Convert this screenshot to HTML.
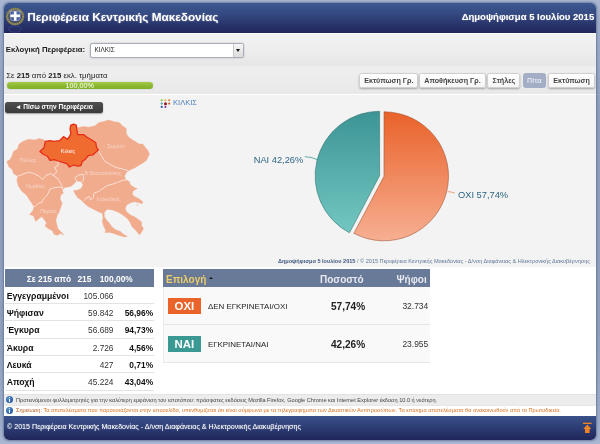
<!DOCTYPE html>
<html lang="el">
<head>
<meta charset="utf-8">
<title>Περιφέρεια Κεντρικής Μακεδονίας</title>
<style>
*{box-sizing:border-box;margin:0;padding:0}
html,body{width:600px;height:444px;overflow:hidden}
body{font-family:"Liberation Sans",sans-serif;position:relative;
 background:linear-gradient(to bottom,#a9b7d3 0,#9fadc9 4%,#8fa0bf 25%,#8fa0bf 75%,#9fadc9 96%,#a9b7d3 100%)}
.abs{position:absolute;white-space:nowrap}
#wrap{position:absolute;left:4px;top:3px;width:592px;height:437px;border-radius:5px;background:#fff;
 box-shadow:0 0 2px 1px rgba(90,108,145,.75);overflow:hidden;will-change:transform}
/* header */
#hdr{position:absolute;left:0;top:0;width:100%;height:29.8px;background:linear-gradient(to bottom,#3c5990 0,#344a82 35%,#29346c 72%,#21275e 100%)}
#title{left:23.3px;top:6.8px;font-size:11.75px;line-height:14px;font-weight:bold;color:#fff;text-shadow:0 0 2px rgba(255,255,255,.45)}
#title2{right:1.8px;top:8.4px;font-size:9.53px;line-height:11px;font-weight:bold;color:#fff;text-shadow:0 0 1.5px rgba(255,255,255,.4)}
/* bands */
#band1{position:absolute;left:0;top:29.8px;width:100%;height:33.4px;background:linear-gradient(to bottom,#fff 0,#f2f2f2 4%,#eeeeee 50%,#e6e6e6 100%)}
#band2{position:absolute;left:0;top:63.2px;width:100%;height:28.3px;background:linear-gradient(to bottom,#efefef 0,#ececec 50%,#e8e8e8 100%)}
#content{position:absolute;left:0;top:91.5px;width:100%;height:172.5px;background:#f3f3f3}
#lbl{left:1.8px;top:42.1px;font-size:7.76px;line-height:9px;font-weight:bold;color:#222}
#sel{position:absolute;left:85.8px;top:40px;width:154px;height:15.1px;background:#fff;border:1px solid #a9adb6;border-radius:2.5px;box-shadow:0 0 1.5px rgba(70,80,100,.45)}
#sel span{position:absolute;left:3.6px;top:2.1px;font-size:6.4px;line-height:7px;color:#222}
#selbtn{position:absolute;right:0;top:0;width:9.6px;height:100%;border-left:1px solid #c9c9c9;border-radius:0 1.5px 1.5px 0;background:linear-gradient(#f6f6f6,#dcdcdc)}
#selbtn i{position:absolute;left:1.6px;top:5.4px;width:0;height:0;border-left:2.7px solid transparent;border-right:2.7px solid transparent;border-top:3.2px solid #111}
#ptxt{left:2.2px;top:67.9px;font-size:7.8px;line-height:9px;color:#222}
#pbar{position:absolute;left:2.5px;top:78.8px;width:146.5px;height:7.4px;border-radius:4px;background:linear-gradient(to bottom,#a4cc4a 0,#8fbb33 45%,#7fae28 100%);box-shadow:0 0 1px rgba(80,110,20,.6)}
#pbar span{position:absolute;left:0;width:100%;top:.6px;text-align:center;font-size:7.2px;line-height:7px;color:#fff}
/* toolbar buttons */
.btn{position:absolute;top:69.8px;height:15.5px;background:linear-gradient(#ffffff,#f6f6f6);border:1px solid #d0d0d0;border-radius:2.5px;box-shadow:0 1px 2px rgba(0,0,0,.3);font-size:7.15px;line-height:15.3px;font-weight:bold;color:#444;text-align:center;white-space:nowrap}
.btn.act{background:#a3aec6;border-color:#a3aec6;color:#dfe4ee;box-shadow:none}
/* back button */
#back{position:absolute;left:.7px;top:98.5px;width:98.3px;height:11.8px;border-radius:2.5px;background:linear-gradient(#4f4f4f,#3a3a3a);box-shadow:0 1px 1.5px rgba(0,0,0,.35);color:#fff;font-weight:bold;font-size:6.55px;line-height:10.4px;text-align:center;white-space:nowrap}
#klbl{left:169px;top:95.2px;font-size:7.56px;line-height:9px;color:#4a7db8}
/* tables */
.th{position:absolute;top:266px;height:17.8px;background:#687a98}
#st-h{left:.7px;width:149.4px}
#st-h span{position:absolute;top:5.5px;font-size:8.4px;line-height:9px;font-weight:bold;color:#fff;white-space:nowrap}
.row{position:absolute;left:.7px;width:149.4px;height:17.3px;background:#fff;border-bottom:1px solid #e3e3e3}
.row b{position:absolute;left:2px;top:4.1px;font-size:8.68px;line-height:10px;color:#111;white-space:nowrap}
.row span{position:absolute;right:40.6px;top:4.1px;font-size:8.3px;line-height:10px;color:#333;white-space:nowrap}
.row em{position:absolute;right:1px;top:4.1px;font-size:8.4px;line-height:10px;font-style:normal;font-weight:bold;color:#111;white-space:nowrap}
#rt-h{left:159px;width:267px}
#rt-h span{position:absolute;top:4.6px;font-size:10px;line-height:11px;font-weight:bold;white-space:nowrap}
.rrow{position:absolute;left:159px;width:267px;height:38.4px;background:#f9f9f9;border-bottom:1px solid #e6e6e6;border-left:1.5px solid #ececec}
.badge{position:absolute;left:3.9px;top:11px;width:32.9px;height:16.1px;color:#fff;font-weight:bold;font-size:11.4px;line-height:16.9px;text-align:center}
.rrow .nm{position:absolute;left:43.9px;top:15px;font-size:7.93px;line-height:9px;color:#222;white-space:nowrap}
.rrow .pc{position:absolute;right:64.8px;top:14.2px;font-size:10.1px;line-height:12px;font-weight:bold;color:#222;white-space:nowrap}
.rrow .vt{position:absolute;right:1.8px;top:14.4px;font-size:8.44px;line-height:10px;color:#333;white-space:nowrap}
/* info rows + footer */
.r2>div{margin-top:-.5px}
#inf1{position:absolute;left:0;top:391px;width:100%;height:11px;background:#ececec;border-top:1px solid #e2e2e2}
#inf2{position:absolute;left:0;top:402px;width:100%;height:10.8px;background:#fff;border-top:1px solid #e6e6e6}
.inf span{position:absolute;left:12px;top:1.5px;font-size:5.58px;line-height:7px;white-space:nowrap}
#inf2 span{top:1px}
#inf2 .ico{top:.8px}
.ico{position:absolute;left:1.8px;top:1px;width:7px;height:7px;border-radius:50%;background:radial-gradient(circle at 40% 35%,#5f97d6 0,#2c62a8 60%,#1d4a8a 100%)}
.ico:before{content:"";position:absolute;left:3px;top:1.2px;width:1.1px;height:1.1px;background:#fff;border-radius:50%}
.ico:after{content:"";position:absolute;left:3px;top:2.9px;width:1.1px;height:2.9px;background:#fff}
#ftr{position:absolute;left:0;bottom:0;width:100%;height:24.2px;background:linear-gradient(to bottom,#3a5289 0,#2f4078 40%,#252e65 80%,#20265b 100%)}
#ftr span{position:absolute;left:3px;top:7.4px;font-size:7.12px;line-height:9px;color:#fff;white-space:nowrap;text-shadow:0 0 1.5px rgba(255,255,255,.5)}
#cfoot{right:6px;top:254.6px;font-size:5.575px;line-height:7px;color:#60779a}
#cfoot b{color:#41587f}
</style>
</head>
<body>
<div id="wrap">
  <div id="hdr"></div>
  <!--EMBLEM--><svg style="position:absolute;left:-4px;top:-3px" width="40" height="36" viewBox="0 0 40 36">
<ellipse cx="15.1" cy="16.5" rx="8" ry="7.6" fill="#333c66" stroke="#77744f" stroke-width="2.7"/>
<ellipse cx="15.1" cy="16.5" rx="8" ry="7.6" fill="none" stroke="#b9b27c" stroke-width="1.5" stroke-dasharray="1 1.3" stroke-opacity=".6"/>
<path d="M10.1,11.1 H20.2 V18.4 Q20.2,20.9 15.15,20.9 Q10.1,20.9 10.1,18.4 Z" fill="#4d65a2" stroke="#cfd6e8" stroke-width=".5"/>
<rect x="13.9" y="11.4" width="2.6" height="9.2" fill="#fff"/><rect x="10.4" y="14.5" width="9.5" height="2.6" fill="#fff"/>
<ellipse cx="15.1" cy="29" rx="6.5" ry="3.2" fill="none" stroke="#4a5a98" stroke-width=".8" stroke-opacity=".55"/>
</svg><!--/EMBLEM-->
  <div id="title" class="abs">Περιφέρεια Κεντρικής Μακεδονίας</div>
  <div id="title2" class="abs">Δημοψήφισμα 5 Ιουλίου 2015</div>

  <div id="band1"></div>
  <div id="band2"></div>
  <div id="content"></div>

  <div id="lbl" class="abs">Εκλογική Περιφέρεια:</div>
  <div id="sel"><span>ΚΙΛΚΙΣ</span><div id="selbtn"><i></i></div></div>
  <div id="ptxt" class="abs">Σε <b>215</b> από <b>215</b> εκλ. τμήματα</div>
  <div id="pbar"><span>100,00%</span></div>

  <div class="btn" style="left:355.3px;width:59px">Εκτύπωση Γρ.</div>
  <div class="btn" style="left:415.2px;width:66.6px">Αποθήκευση Γρ.</div>
  <div class="btn" style="left:483.4px;width:33px">Στήλες</div>
  <div class="btn act" style="left:518.8px;width:23px">Πίτα</div>
  <div class="btn" style="left:544.3px;width:46.5px">Εκτύπωση</div>

  <div id="back">◄ Πίσω στην Περιφέρεια</div>
  <!--KICON--><svg style="position:absolute;left:-4px;top:-3px" width="200" height="120" viewBox="0 0 200 120"><circle cx="161.7" cy="100.25" r="1.05" fill="#8cc242"/><circle cx="165.4" cy="100.25" r="1.05" fill="#e9ae35"/><circle cx="169.2" cy="100.25" r="1.05" fill="#e07a32"/><circle cx="161.7" cy="103.6" r="1.05" fill="#3fa2aa"/><circle cx="165.5" cy="103.7" r="1.55" fill="#a31a1a"/><circle cx="169.2" cy="103.6" r="1.05" fill="#c4622f"/><circle cx="161.7" cy="106.9" r="1.05" fill="#2f4fa2"/><circle cx="165.4" cy="106.9" r="1.05" fill="#7040a0"/></svg><!--/KICON-->
  <div id="klbl" class="abs">ΚΙΛΚΙΣ</div>

  <!--MAP--><svg id="map" style="position:absolute;left:-4px;top:-3px" width="600" height="444" viewBox="0 0 600 444">
<polygon points="6.8,161.6 10.1,159.6 12.2,155.5 13.5,151.5 17.6,148.8 19,144 23,141.4 28.4,139.3 34.5,140 39.2,138.6 44.6,140 45.3,141.4 50,140.7 54,141.4 59.5,140.7 63.5,136.6 67.6,139.3 70.9,133.9 70.1,129.2 70.6,125.3 73.5,124.2 76.3,125.1 77,128 77.6,127.8 83,126.5 89,127.2 95.1,125.8 98.5,122.8 103.5,121.5 108.8,120 114.2,121.8 119.2,122.4 122.3,125.8 126.2,128.5 126.4,133.9 129,137.6 134,140.7 139.3,144 142.7,144 145.4,147.4 148.1,150.8 149.5,154.2 147.4,158.2 146.8,160 143.4,162.7 138.6,165.4 134.6,168.1 129.9,170.1 126.5,172.2 124.5,176.2 125.8,179.6 129.2,181.6 130.5,185 134.6,187.7 137.3,188.6 134.6,190 132.6,191.8 132.6,195.1 135.4,197 139.5,199.1 142.8,201.8 142.2,203.8 138.1,202.4 134.1,201.8 130,203.1 126.6,205.1 125.3,208.5 126.6,211.9 129.3,213.9 130.7,215.3 134.1,216.6 138.1,219.3 141.5,222 141.5,225.4 143.5,228.8 141.5,232.2 139.5,234.9 135.4,230.1 132,226.8 130,222 127.3,218.6 123.2,215.3 117.8,211.9 112.4,209.9 107,209.2 104.3,212.6 104.3,216.6 106.4,220 109.1,222.7 111.8,226.8 115.1,229.5 120.5,231.5 123.2,234.2 127.3,236.2 124.6,236.9 119.2,235.5 113.8,233.5 109.1,232.2 105,232.8 105.7,230.1 103.6,226.1 102.3,222 103,217.3 102.3,213.2 98.9,211.9 93.5,209.2 88.1,206.5 84.1,203.1 81.8,200.5 77.7,197.8 75,193.8 73.6,190.4 77,190.4 81.1,188.4 83.1,185 81.1,181.6 76.4,180.9 74.3,183.6 70.9,186.4 67.6,187 64.2,187.7 62.2,190.4 63.5,193.1 60.8,195.1 60.1,199.2 62.2,203.2 60.8,207.3 58.8,212.7 57.3,215.3 55.9,220 56.6,224.1 58,228.8 60.7,231.5 63.8,234.9 60.7,233.5 57.3,235.3 53.9,234.2 52.6,230.8 48.5,228.8 45.1,226.1 46.5,222.7 44.5,220 41.8,216.6 39.1,218.6 35.7,221.4 33.6,215.9 29.6,214.6 33,210.5 33.8,206.6 31.8,203.2 29.1,199.2 26.4,195.1 21.6,191.1 18.2,185.7 16.9,180.3 17.6,176.2 13.5,173.5 12.2,169.5 8.8,166.8 7.4,162.7" fill="#f1ab8d" stroke="#f1ab8d" stroke-width=".4" stroke-linejoin="round"/>
<circle cx="137.4" cy="205" r=".7" fill="#f1ab8d"/>
<polyline points="58.1,161 58.1,165.4 54.7,167.4 56.8,171.5 54,174.9 53.4,175.5" fill="none" stroke="#fdf3ee" stroke-width=".75" stroke-linejoin="round" stroke-linecap="round"/>
<polyline points="17.6,176.2 23,174.2 28.4,172.2 33.8,173.5 39.2,176.2 42.6,179.6 45.9,175.5 50.7,173.5 53.4,175.5" fill="none" stroke="#fdf3ee" stroke-width=".75" stroke-linejoin="round" stroke-linecap="round"/>
<polyline points="53.4,175.5 58.1,178.9 60.8,183.6 62.8,187.7" fill="none" stroke="#fdf3ee" stroke-width=".75" stroke-linejoin="round" stroke-linecap="round"/>
<polyline points="33.8,206.6 35,206.5 38.4,203.1 41.8,202.4 43.2,199.2 47.3,195.1 50,189.1 54,187.7 59.5,187 62.8,188.4" fill="none" stroke="#fdf3ee" stroke-width=".75" stroke-linejoin="round" stroke-linecap="round"/>
<polyline points="98.5,150.1 99.5,152.8 102.2,156.9 104.9,161.6 108.9,163.6 112.3,165.7 117,167.7 122.4,169 127.8,170.5" fill="none" stroke="#fdf3ee" stroke-width=".75" stroke-linejoin="round" stroke-linecap="round"/>
<polyline points="84.5,200.5 86.5,197.8 89.2,196.5 90.5,199.9 93.2,197.8 93.9,193.1 98,191.8 102,189.1 106.8,185.7 112.2,184.3 117.6,182.3 123,180.3 127,179.8" fill="none" stroke="#fdf3ee" stroke-width=".75" stroke-linejoin="round" stroke-linecap="round"/>
<polyline points="76.4,180.9 75,177.6 79,174.9 83.1,174.2 83.8,178.9 82.4,181.6" fill="none" stroke="#fdf3ee" stroke-width=".75" stroke-linejoin="round" stroke-linecap="round"/>
<polygon points="39.9,151.5 43.9,148.1 45.3,141.4 50,140.7 54,141.4 59.5,140.7 63.5,136.6 67.6,139.3 70.9,133.9 70.1,129.2 70.6,125.3 73.5,124.2 76.3,125.1 76.9,129.9 77.6,134.6 83.6,134.6 87,137.3 91.8,140 95.8,142.7 96.5,147.4 98.5,150.1 95.1,152.8 93.1,154.9 88.4,155.5 85,159.6 82.3,161.6 80.9,165.7 77.6,166.1 73.5,165 69.5,167 66.8,163.6 62.7,162.3 58.1,161 54,159.6 50,160.3 47.3,156.2 43.2,154.2" fill="#f06b30" stroke="#e62c16" stroke-width="1.25" stroke-linejoin="round"/>
<text x="28" y="162" text-anchor="middle" font-size="5.1" fill="#fff" fill-opacity=".5" font-family="Liberation Sans, sans-serif">Πέλλας</text>
<text x="68" y="152.6" text-anchor="middle" font-size="5.6" fill="#fff" fill-opacity="1" font-family="Liberation Sans, sans-serif">Κιλκίς</text>
<text x="116" y="148.2" text-anchor="middle" font-size="5.1" fill="#fff" fill-opacity=".5" font-family="Liberation Sans, sans-serif">Σερρών</text>
<text x="35.5" y="188" text-anchor="middle" font-size="5.1" fill="#fff" fill-opacity=".5" font-family="Liberation Sans, sans-serif">Ημαθίας</text>
<text x="103" y="175.2" text-anchor="middle" font-size="5.1" fill="#fff" fill-opacity=".5" font-family="Liberation Sans, sans-serif">Β Θεσσαλονίκης</text>
<text x="108.5" y="201.2" text-anchor="middle" font-size="5.1" fill="#fff" fill-opacity=".5" font-family="Liberation Sans, sans-serif">Χαλκιδικής</text>
<text x="48.5" y="213.3" text-anchor="middle" font-size="5.1" fill="#fff" fill-opacity=".5" font-family="Liberation Sans, sans-serif">Πιερίας</text>
</svg><!--/MAP-->
  <!--PIE--><svg id="pie" style="position:absolute;left:-4px;top:-3px" width="600" height="444" viewBox="0 0 600 444">
<defs>
<linearGradient id="go" x1="0" y1="0" x2="0" y2="1"><stop offset="0" stop-color="#e9622a"/><stop offset="1" stop-color="#f7af92"/></linearGradient>
<linearGradient id="gt" x1="0" y1="0" x2="0" y2="1"><stop offset="0" stop-color="#3c9494"/><stop offset="1" stop-color="#73c7c2"/></linearGradient>
</defs>
<path d="M384.0,176.3 L384.0,111.80000000000001 A64.5,64.5 0 1,1 353.86,233.32 Z" fill="url(#go)" stroke="#a2583a" stroke-width=".6" stroke-linejoin="round"/>
<path d="M379.6,175.8 L349.46,232.82 A64.5,64.5 0 0,1 379.6,111.30000000000001 Z" fill="url(#gt)" stroke="#3a7774" stroke-width=".6" stroke-linejoin="round"/>
<path d="M304.7,156.7 Q311,156.6 317.5,159.7" fill="none" stroke="#3e9a94" stroke-width=".8"/>
<path d="M447.6,191.6 Q451,191.7 454.8,193" fill="none" stroke="#ee8a5c" stroke-width=".8"/>
<text x="253.7" y="163" font-size="9.3" fill="#2c6582" font-family="Liberation Sans, sans-serif">NAI 42,26%</text>
<text x="458" y="198.3" font-size="9.3" fill="#2c6582" font-family="Liberation Sans, sans-serif">OXI 57,74%</text>
</svg><!--/PIE-->
  <div id="cfoot" class="abs"><b>Δημοψήφισμα 5 Ιουλίου 2015</b> / © 2015 Περιφέρεια Κεντρικής Μακεδονίας - Δ/νση Διαφάνειας &amp; Ηλεκτρονικής Διακυβέρνησης</div>

  <!-- stats table -->
  <div class="th" id="st-h"><span style="left:22px">Σε 215 από</span><span style="left:72.7px">215</span><span style="left:95px">100,00%</span></div>
  <div class="row" style="top:283.8px"><b>Εγγεγραμμένοι</b><span>105.066</span></div>
  <div class="row" style="top:301.1px"><b>Ψήφισαν</b><span>59.842</span><em>56,96%</em></div>
  <div class="row" style="top:318.4px"><b>Έγκυρα</b><span>56.689</span><em>94,73%</em></div>
  <div class="row" style="top:335.7px"><b>Άκυρα</b><span>2.726</span><em>4,56%</em></div>
  <div class="row" style="top:353.0px"><b>Λευκά</b><span>427</span><em>0,71%</em></div>
  <div class="row" style="top:370.3px"><b>Αποχή</b><span>45.224</span><em>43,04%</em></div>

  <!-- results table -->
  <div class="th" id="rt-h"><span style="left:3px;color:#eccd68">Επιλογή</span><span style="left:46.4px;top:7.9px;font-size:0;width:0;height:0;border-left:2.5px solid transparent;border-right:2.5px solid transparent;border-bottom:2.7px solid #111"></span><span style="left:157px;color:#e6e9f0">Ποσοστό</span><span style="left:233.5px;color:#e6e9f0">Ψήφοι</span></div>
  <div class="rrow" style="top:283.7px"><div class="badge" style="background:#e9632b">OXI</div><div class="nm">ΔΕΝ ΕΓΚΡΙΝΕΤΑΙ/ΟΧΙ</div><div class="pc">57,74%</div><div class="vt">32.734</div></div>
  <div class="rrow r2" style="top:322.1px"><div class="badge" style="background:#3a9a93">NAI</div><div class="nm">ΕΓΚΡΙΝΕΤΑΙ/ΝΑΙ</div><div class="pc">42,26%</div><div class="vt">23.955</div></div>

  <div id="inf1" class="inf"><div class="ico"></div><span style="color:#444">Προτεινόμενοι φυλλομετρητές για την καλύτερη εμφάνιση του ιστοτόπου: πρόσφατες εκδόσεις Mozilla Firefox, Google Chrome και Internet Explorer έκδοση 10.0 ή νεότερη.</span></div>
  <div id="inf2" class="inf"><div class="ico"></div><span style="color:#d9701c"><span style="position:static;color:#b5561a">Σημείωση:</span> Τα αποτελέσματα που παρουσιάζονται στην ιστοσελίδα, υπενθυμίζεται ότι είναι σύμφωνα με τα τηλεγραφήματα των Δικαστικών Αντιπροσώπων. Τα επίσημα αποτελέσματα θα ανακοινωθούν από τα Πρωτοδικεία.</span></div>
  <div id="ftr"><span>© 2015 Περιφέρεια Κεντρικής Μακεδονίας - Δ/νση Διαφάνειας &amp; Ηλεκτρονικής Διακυβέρνησης</span><!--UPICON--><svg style="position:absolute;left:-4px;top:-415.8px" width="600" height="444" viewBox="0 0 600 444">
<rect x="583" y="422.7" width="8.6" height="1.3" fill="#f08424"/>
<path d="M587.3,424.6 L591.3,428.9 H589.6 V433 H585 V428.9 H583.3 Z" fill="#f08424"/></svg><!--/UPICON--></div>
</div>
</body>
</html>
